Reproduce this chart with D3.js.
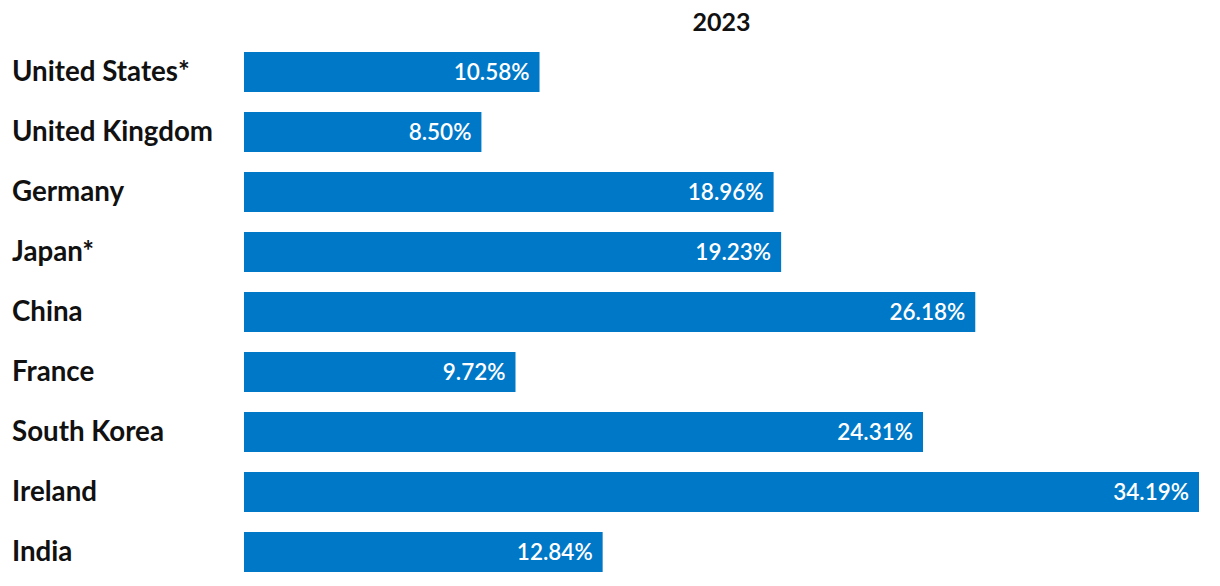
<!DOCTYPE html>
<html><head><meta charset="utf-8">
<script src="https://cdn.jsdelivr.net/npm/d3@7"></script>
<style>body{margin:0;background:#fff}svg{display:block}</style>
</head><body>
<svg id="c" width="1220" height="586"></svg>
<script>
const categories = ["United States*","United Kingdom","Germany","Japan*","China","France","South Korea","Ireland","India"];
const values = [10.58, 8.50, 18.96, 19.23, 26.18, 9.72, 24.31, 34.19, 12.84];
const seriesTitle = "2023";

const svg = d3.select("#c");
const x = d3.scaleLinear().domain([0, 34.19]).range([244, 1199]);
const yb = d3.scaleBand().domain(categories).range([42, 582]).paddingInner(20/60).paddingOuter(10/60);

svg.append("text").attr("x", (x.range()[0]+x.range()[1])/2).attr("y", 31)
  .attr("text-anchor","middle").attr("font-family","Lato").attr("font-weight",700)
  .attr("font-size",25).attr("fill","#111").text(seriesTitle);

const g = svg.selectAll("g.row").data(categories).join("g").attr("class","row");
g.append("rect").attr("x", x(0)).attr("y", d=>yb(d)).attr("height", yb.bandwidth())
  .attr("width", (d,i)=>x(values[i])-x(0)).attr("fill","#0078c8");
g.append("text").attr("x", 12).attr("y", d=>yb(d)+yb.bandwidth()/2).attr("dy","0.34em")
  .attr("font-family","Lato").attr("font-weight",700).attr("font-size",27.7).attr("fill","#111")
  .text(d=>d);
g.append("text").attr("x", (d,i)=>x(values[i])-10).attr("y", d=>yb(d)+yb.bandwidth()/2).attr("dy","0.36em")
  .attr("text-anchor","end").attr("font-family","Lato").attr("font-weight",600).attr("font-size",22.5).attr("fill","#fff")
  .text((d,i)=>values[i].toFixed(2)+"%");
</script>
</body></html>
